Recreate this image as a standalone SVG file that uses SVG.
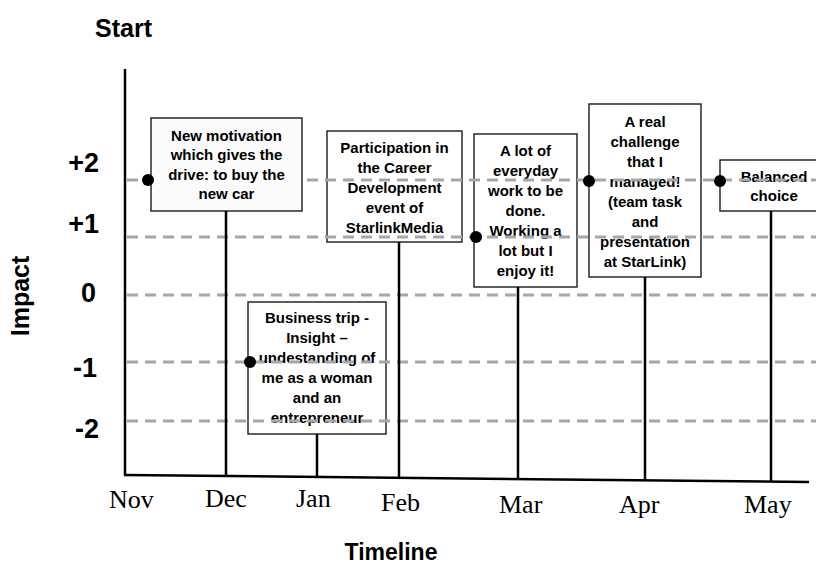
<svg xmlns="http://www.w3.org/2000/svg" width="816" height="565" viewBox="0 0 816 565">
  <style>
    .title { font-family: "Liberation Sans", Arial, sans-serif; font-weight: bold; fill: #000; }
    .level { font-family: "Liberation Sans", Arial, sans-serif; font-weight: bold; font-size: 27px; text-anchor: end; fill: #000; }
    .month { font-family: "Liberation Serif", "Times New Roman", serif; font-size: 26px; fill: #000; }
    .note { font-family: "Liberation Sans", Arial, sans-serif; font-weight: bold; font-size: 15px; text-anchor: middle; fill: #000; }
    .box { fill: #ffffff; stroke: #1a1a1a; stroke-width: 1.4; }
    .box-solid { fill: #fbfbfb; stroke: #1a1a1a; stroke-width: 1.4; }
    .grid { stroke: #a6a6a6; stroke-width: 3; stroke-dasharray: 11 7; fill: none; }
    .axis { stroke: #000; stroke-width: 2.5; fill: none; }
    .stem { stroke: #000; stroke-width: 2.5; fill: none; }
    .dot { fill: #000; }
  </style>

  <!-- titles -->
  <text class="title" x="95" y="37" font-size="25">Start</text>
  <text class="title" x="391" y="560" font-size="23" text-anchor="middle">Timeline</text>
  <text class="title" x="0" y="0" font-size="25" text-anchor="middle" transform="translate(29 296) rotate(-90)">Impact</text>

  <!-- impact levels -->
  <g id="levels">
    <text class="level" x="99" y="172">+2</text>
    <text class="level" x="99" y="233">+1</text>
    <text class="level" x="96" y="302">0</text>
    <text class="level" x="97" y="377">-1</text>
    <text class="level" x="99" y="438">-2</text>
  </g>

  <!-- month labels -->
  <g id="months">
    <text class="month" x="109" y="508">Nov</text>
    <text class="month" x="205" y="507">Dec</text>
    <text class="month" x="296" y="507">Jan</text>
    <text class="month" x="381" y="511">Feb</text>
    <text class="month" x="499" y="513">Mar</text>
    <text class="month" x="619" y="513">Apr</text>
    <text class="month" x="744" y="513">May</text>
  </g>

  <!-- event boxes sitting under the grid -->
  <g id="event-career">
    <rect class="box" x="327" y="131" width="135" height="111"/>
    <text class="note" x="394.5" y="153">Participation in</text>
    <text class="note" x="394.5" y="173">the Career</text>
    <text class="note" x="394.5" y="193">Development</text>
    <text class="note" x="394.5" y="213">event of</text>
    <text class="note" x="394.5" y="233">StarlinkMedia</text>
  </g>

  <g id="event-business-trip">
    <rect class="box" x="248" y="302" width="138" height="132"/>
    <text class="note" x="317" y="323">Business trip -</text>
    <text class="note" x="317" y="343">Insight –</text>
    <text class="note" x="317" y="363">undestanding of</text>
    <text class="note" x="317" y="383">me as a woman</text>
    <text class="note" x="317" y="403">and an</text>
    <text class="note" x="317" y="423">entrepreneur</text>
  </g>

  <g id="event-everyday">
    <rect class="box" x="474" y="134" width="103" height="153"/>
    <text class="note" x="525.5" y="156">A lot of</text>
    <text class="note" x="525.5" y="176">everyday</text>
    <text class="note" x="525.5" y="196">work to be</text>
    <text class="note" x="525.5" y="216">done.</text>
    <text class="note" x="525.5" y="236">Working a</text>
    <text class="note" x="525.5" y="256">lot but I</text>
    <text class="note" x="525.5" y="276">enjoy it!</text>
  </g>

  <g id="event-challenge">
    <rect class="box" x="589" y="104" width="112" height="173"/>
    <text class="note" x="645" y="127">A real</text>
    <text class="note" x="645" y="147">challenge</text>
    <text class="note" x="645" y="167">that I</text>
    <text class="note" x="645" y="187">managed!</text>
    <text class="note" x="645" y="207">(team task</text>
    <text class="note" x="645" y="227">and</text>
    <text class="note" x="645" y="247">presentation</text>
    <text class="note" x="645" y="267">at StarLink)</text>
  </g>

  <g id="event-balanced">
    <rect class="box" x="720" y="160" width="108" height="51"/>
    <text class="note" x="774" y="182">Balanced</text>
    <text class="note" x="774" y="201">choice</text>
  </g>

  <!-- dashed impact grid -->
  <g id="grid">
    <line class="grid" x1="127" y1="180" x2="816" y2="180"/>
    <line class="grid" x1="127" y1="237" x2="816" y2="237"/>
    <line class="grid" x1="127" y1="295" x2="816" y2="295"/>
    <line class="grid" x1="127" y1="362" x2="816" y2="362"/>
    <line class="grid" x1="127" y1="421" x2="816" y2="421"/>
  </g>

  <!-- first event box stays above the grid -->
  <g id="event-motivation">
    <rect class="box-solid" x="151" y="118" width="151" height="93"/>
    <text class="note" x="226.5" y="141">New motivation</text>
    <text class="note" x="226.5" y="160">which gives the</text>
    <text class="note" x="226.5" y="180">drive: to buy the</text>
    <text class="note" x="226.5" y="199">new car</text>
  </g>

  <!-- axes, stems and markers -->
  <g id="connectors">
    <line class="axis" x1="125" y1="69" x2="125" y2="475"/>
    <line class="axis" x1="124" y1="475" x2="809" y2="482"/>
    <line class="stem" x1="226" y1="211" x2="226" y2="476"/>
    <line class="stem" x1="317" y1="434" x2="317" y2="477"/>
    <line class="stem" x1="399" y1="242" x2="399" y2="478"/>
    <line class="stem" x1="518" y1="287" x2="518" y2="479"/>
    <line class="stem" x1="645" y1="277" x2="645" y2="480"/>
    <line class="stem" x1="771" y1="211" x2="771" y2="482"/>
    <circle class="dot" cx="148" cy="180" r="6"/>
    <circle class="dot" cx="250" cy="362" r="6"/>
    <circle class="dot" cx="476" cy="237" r="6"/>
    <circle class="dot" cx="589" cy="181" r="6"/>
    <circle class="dot" cx="720" cy="181" r="6"/>
  </g>
</svg>
